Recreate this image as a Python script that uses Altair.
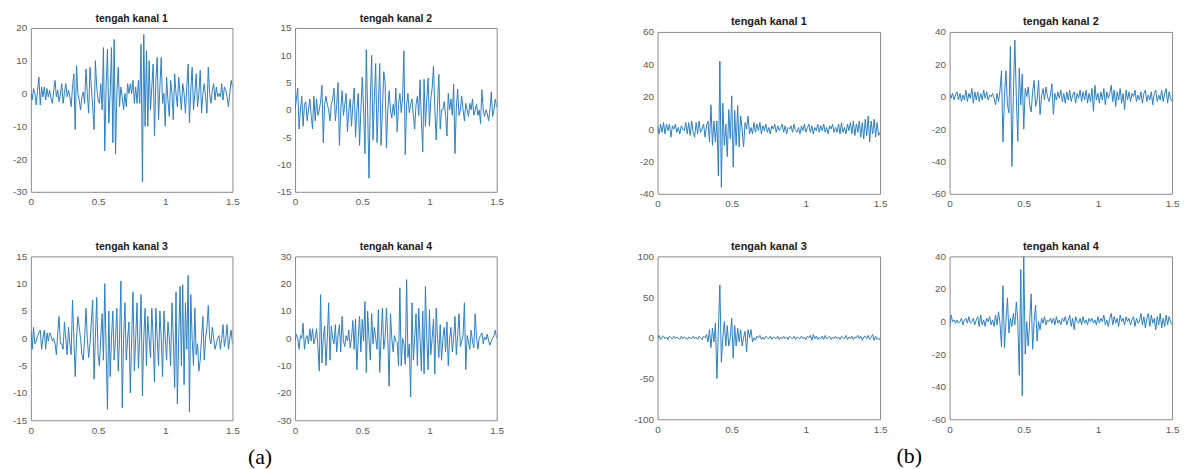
import altair as alt
import pandas as pd

# sampling step of the recorded signals (seconds)
DT = 0.01
X_TICKS = [0, 0.5, 1, 1.5]

# ---- (a) left group ----
A1 = [
    0.5, -2, 1.5, 0, -3.5, 1, 5, -3.5, 2, -1,
    2, -2, 1.5, -1, 1, -1.5, -3, 1, 4, -1,
    1, -2.5, 0, 3, -3, 0, 3, -1, 1, -1,
    -4, 2, 6, -11, 8.5, 0, -2, -5, -1, 0.5,
    -3, 7.5, 0, -6, 8, 2, -4, -11, 10, 2,
    -2, -3, 3, -5, 14, -17.5, 2, 13.5, -9, 0,
    14, -15, 16.5, -18.5, 0, 8, -4, 2, -1, -5,
    0, -4, 3, 0, 3, 0, 4, -3, 2, -3,
    4, -3, 15, -27, 18, -10, 13, -10, 10, -5,
    2, 9, -13, 4, 11, -8, 2, 11, -3, 0,
    -10, 5, -2, -7, 4, 0, -8, 6, 0, -4,
    5, 0, -5, 3, 0, -6, 2, 9, -9, 1,
    8, -5, 0, 6, -4, 0, 7, -6, 0, 3,
    -1, -6, 8, 0, -3, 1, 3, -2, 2, -1,
    0, -1, 3, -2, 2, 1, -1, -4, 0, 4,
    2,
]
A2 = [
    0, 2, 4, -3.5, 0, 2.5, -3, 1, 1.5, -2,
    0, 2, -1, -3.5, 2.5, -2, 2, -1, 0, 1.5,
    4.5, -6, 1, 2.5, 1, 0, -2, 1, 2, 4,
    -2, 1, 5, -6.5, 0, 3.5, -1, 1, 3, -4,
    0, 2, -3, 1, 4, -5, 0, 3, -6.5, 0,
    6, 0, -8, 11, 0, -12.5, 2, 10, -5.5, 2,
    8.5, -6, 1, 8.5, -6.5, 0, 7, 5, -7, 0,
    3.5, 0, -1.5, 1, -1, 4, -4, 1, 3, -0.5,
    2, 10.8, -8.2, 1, 3, -0.5, 1, 2, -1, -3.5,
    1, 2.5, -1, 5.5, -2, -7.7, 5.6, -3, 2, 5.8,
    -3, 2, 4, 8, 0, -5.5, 1, 6.5, -3.5, 0,
    0, 1.5, -1, -4.8, 3, 0, 2, -1, 4.7, -8,
    0.5, 3.8, -1, 0, 2.5, 0, -2, 1.2, 0, -1.2,
    1.2, 0, 2, -1, 0, 1, -1, 0, -2.5, 3.7,
    0, -1.2, 0, -0.6, -2, 0, 3.3, -1.2, 0, 2,
    0.5,
]
A3 = [
    1.5, -2, 2, -1, -0.5, 0.5, 1, 1.5, -2, 0,
    1.5, -2, 1, -0.5, 1, 0.5, -0.5, 0, -1, -3,
    1, 4, -1, -1, -2, 3, 0, -3, 2, -1,
    -3, 7, 0, -7, 0, 4, 2, 0, -3, -4,
    0, 5.5, 0, -3.5, -1, 3, 7, -7.5, 0, 7.5,
    -3, -5, 0, 4.5, -4, 10, -2, -13, 5, -7,
    0, 5, -4, 0, 5.5, -6, 0, 10.5, -12.7, 0,
    6.5, -4, 0, 3, -10, 0, 8.5, -6, 0, 6.5,
    -5.5, 0, 8, -10.5, 0, 5.5, -5, 4, 0, -3.5,
    5.5, 0, -8, 5.5, 0, -5, 5, 0, -7, 5,
    0, -4, 3, 0, -5, 6.5, 0, -9, 8.5, -12,
    0, 9.5, -5, 9.8, -8.5, 6.5, -2, 11.5, -13.5, 8,
    0, -5, 5.5, -3, -1, -6, -4, 0, 4, -4,
    0, 2, 6, 0, -1, 2, 0, -2, -1, 0,
    0.5, -2, 0, 2.5, -1.5, 0, 2.5, -2, 0, 1.5,
    -1,
]
A4 = [
    -1, 1.5, 0, -4, 1, 0, 5.5, -4, 0, 1,
    -2, 3.5, -1, 3.5, -2, 0, 3.5, -3, -12, 16,
    -9, 0, 4.5, -10, 0, 13, -8, 4.5, 0, -2,
    5, -5, 1, 5, -5, 8, -1, -3, 1, -1,
    3, -3.5, 0, 6.5, -4, 7, -11.5, 0, 8, -5,
    7, -1, 13.5, -12.5, 10, 0, -8, 9, -2, 4,
    0, -4, 10.5, -12.5, 0, 11, -4, 0, 11, 0,
    -17.5, 9, 0, -5, 1, -1, -1.5, -10, 18.5, -10,
    0, -2, -9.5, 21.5, -7, -2, -21.5, 13, -8, 0,
    9, -10, 11, 0, -12, 10, -13, 19, 0, -11.5,
    10.5, -6, 0, 7, -13, 11, 0, -7, 5, -8,
    0, 4, -5, 6, -10, 0, 4, -5, 0, 8,
    -6, 1, 9, -3, -1, 1, 13, -11.5, 1, -1,
    -4, 3, -1, -3.5, 9, 1, -4, 0, 1, 2,
    -2, 0.5, -0.5, 1.5, -1, -2.5, -1, 0, 1, 3,
    0,
]

# ---- (b) right group ----
B1 = [
    2, -3, 3, -2, 4, -3, 3, -1, 3, -5,
    2, 0, 3, -2, 1, -3, 2, 0, -1, 4,
    -3, 4, -4, 5, -2, -5, 4, -3, 5, -2,
    0, 3, -5, 2, 5, -8, 15, -10, 5, -8,
    5, -29, 42, -36, 16, -10, 3, -17, 12, -6,
    20.5, -23.5, 11.5, -10, 14.5, -11, 8, 0, -11, 4,
    0, 8, -3, 1, -3, 4, -2, 3, -1, 4,
    -3, 2, -1, 3, -2, 1, -3, 2, 0, 3,
    -2, 2, -1, 1, 3, -2, 2, -3, 1, 0,
    2, -2, 3, -1, -2, 1, -3, 2, -1, 3,
    -2, 1, 3, -2, 2, -3, 1, -1, 3, -2,
    2, -1, 3, -2, 1, -3, 2, 0, 3, -2,
    1, -2, 3, -3, 4, -2, 1, -3, 3, -1,
    4, -3, 5, -4, 3, -2, 5, -5, 4, -6,
    6, -4, 8, -8, 5, -3, 6, -5, 4, -4,
    -2,
]
B2 = [
    2, -1, 2, -2, 1, 3, -2, 2, -3, 1,
    -2, 4, -3, 2, -1, 5, -4, 3, -2, 3,
    -3, 2, -2, 4, -1, 3, -2, 1, 0, 2,
    -1, -5, 2, -3, 4, 16, -28, 0, 16, -5,
    -10, 31, -43, 0, 35, 0, -27.5, 17.5, -5, 14,
    -20, 5, 0, 6, -5, -9.5, 3, 10, -6, -2,
    10, -11, 0, 5, -2, 6, 0, -3, 1, 8,
    -11, 2, -2, 3, -1, 4, -3, 2, -4, 3,
    -2, 4, -3, 1, 3, -4, 2, -1, 4, -3,
    3, -2, 4, -4, 2, -3, 5, -9, 7, -2,
    2, -4, 3, -2, 5, -5, 3, -1, 2, 7,
    -3, 4, -6, 3, -2, 5, -4, 2, -8, 4,
    -2, 3, -3, 2, 0, 4, -3, 1, -2, 3,
    -4, 2, 4, -3, 1, -2, 3, -5, 2, 4,
    -3, 1, -2, 4, -3, 2, 5, -4, 3, -1,
    -3,
]
B3 = [
    -1, 3, -2, 1, 2, -1, 1, -2, 2, 0,
    -1, 2, -1, 1, 0, -2, 2, -1, 1, 0,
    -2, 1, 0, -1, 2, -1, 1, -2, 2, 0,
    -2, 2, 0, 4, -5, 10, -12, 12, -5, 18,
    -50, 10, 65, -30, 0, 20, -10, 15, -10, 0,
    24, -25, 15, -10, 12, -5, 10, -10, 0, 8,
    -17, 10, 0, 10, -5, 0, -3, 2, 0, 3,
    -2, 1, -2, 2, 0, -1, 2, -2, 1, 0,
    -1, 2, -2, 1, -1, 2, -1, 1, -2, 2,
    0, -1, 2, -2, 1, 0, -1, 2, -1, 1,
    -2, 2, 0, 3, -3, 4, -1, 2, -2, 1,
    -1, 2, -2, 3, -1, 0, 2, -2, 1, -1,
    2, -1, 1, -2, 2, 0, -1, 3, -2, 1,
    -1, 2, -2, 1, 0, 3, -1, 2, -3, 1,
    2, -1, 3, -2, 1, 4, -3, 2, -2, 0,
    -3,
]
B4 = [
    -3, 4, 0, 1, -1, 1, -1, 0, 2, -2,
    1, 2, -1, 3, -1, 0, 2, -2, 1, 3,
    -3, 4, -2, 1, -3, 2, 0, 3, -2, 1,
    -3, 4, -2, 6, -1, -15.5, 22, -16, 0, 14.5,
    -7, 2, -3, 5, -2, 12, 0, -33, 32, -45.5,
    40, -20, 0, -15, 0, 17, -17, 0, 10, -12,
    0, -5, 2, -1, 3, -2, 1, 0, 2, -1,
    2, -2, 3, -1, 1, -2, 2, 0, 3, -2,
    1, 4, -3, 2, -5, 3, 0, -1, 2, -2,
    3, -1, 1, -2, 2, 0, 2, -1, 1, -2,
    3, -1, 2, 0, 4, -2, 1, -3, 2, 5,
    -2, 3, -1, 2, -3, 4, 0, 2, -2, 3,
    0, 2, -2, 1, 3, -3, 2, -1, 0, 5,
    -2, 3, -4, 2, 5, -3, 4, -1, 2, -5,
    3, -2, 5, -4, 2, -3, 4, -2, 3, 0,
    -2,
]

TITLES = ["tengah kanal 1", "tengah kanal 2", "tengah kanal 3", "tengah kanal 4"]

LINE = "#2a7fc4"
LABEL_FONT = "Liberation Sans"


def panel(vals, title, dom, yticks, w, h, tsize, toff):
    df = pd.DataFrame({"t": [round(i * DT, 2) for i in range(len(vals))], "v": vals})
    tp = alt.TitleParams(title, fontSize=tsize, fontWeight="bold", color="#1a1a1a",
                         font=LABEL_FONT, offset=toff)
    return (
        alt.Chart(df)
        .mark_line(color=LINE, strokeWidth=1, clip=True)
        .encode(
            x=alt.X(
                "t:Q",
                scale=alt.Scale(domain=[0, 1.5], nice=False, zero=False),
                axis=alt.Axis(values=X_TICKS, labelExpr="'' + datum.value", title=None,
                              labelPadding=5, labelFlush=False, labelOverlap=False),
            ),
            y=alt.Y(
                "v:Q",
                scale=alt.Scale(domain=dom, nice=False, zero=False),
                axis=alt.Axis(values=yticks, labelExpr="'' + datum.value", title=None,
                              labelPadding=4, labelOverlap=False),
            ),
        )
        .properties(width=w, height=h, title=tp)
    )


LW, LH = 203, 165
a1 = panel(A1, TITLES[0], [-30, 20], [-30, -20, -10, 0, 10, 20], LW, LH, 10.5, -1.5)
a2 = panel(A2, TITLES[1], [-15, 15], [-15, -10, -5, 0, 5, 10, 15], LW, LH, 10.5, -1.5)
a3 = panel(A3, TITLES[2], [-15, 15], [-15, -10, -5, 0, 5, 10, 15], LW, LH, 10.5, -1.5)
a4 = panel(A4, TITLES[3], [-30, 30], [-30, -20, -10, 0, 10, 20, 30], LW, LH, 10.5, -1.5)

RW = 224
b1 = panel(B1, TITLES[0], [-40, 60], [-40, -20, 0, 20, 40, 60], RW, 163, 11, -0.5)
b2 = panel(B2, TITLES[1], [-60, 40], [-60, -40, -20, 0, 20, 40], RW, 163, 11, -0.5)
b3 = panel(B3, TITLES[2], [-100, 100], [-100, -50, 0, 50, 100], RW, 164, 11, -0.5)
b4 = panel(B4, TITLES[3], [-60, 40], [-60, -40, -20, 0, 20, 40], RW, 164, 11, -0.5)


def group_title(text, off, dx):
    return alt.TitleParams(text, orient="bottom", anchor="middle", font="Liberation Serif",
                           fontSize=22, fontWeight="normal", color="#000000", offset=off, dx=dx)


left = alt.concat(a1, a2, a3, a4, columns=2, spacing={"row": 65, "column": 63},
                  bounds="flush", title=group_title("(a)", 12, 2))
right = alt.concat(b1, b2, b3, b4, columns=2, spacing={"row": 63, "column": 70},
                   bounds="flush", title=group_title("(b)", 12, 3))

# invisible 4px strip that lowers the right group relative to the left one
spacer = (
    alt.Chart(pd.DataFrame({"v": [0]}))
    .mark_rule(opacity=0)
    .encode(x=alt.value(0), x2=alt.value(1), y=alt.value(0))
    .properties(width=RW, height=4, view=alt.ViewBackground(stroke="transparent"))
)
right_outer = alt.vconcat(spacer, right, spacing=0, bounds="flush")

chart = (
    alt.hconcat(left, right_outer, spacing=129, bounds="full")
    .properties(padding={"left": 4, "top": 3.5, "right": 1, "bottom": 0}, background="white")
    .configure_view(stroke="#8a8a8a", strokeWidth=1)
    .configure_axis(domain=False, ticks=False, grid=False, labelFont=LABEL_FONT,
                    labelFontSize=10, labelColor="#5a5a5a")
)

chart.save("out.html", embed_options={"renderer": "svg", "actions": False})
